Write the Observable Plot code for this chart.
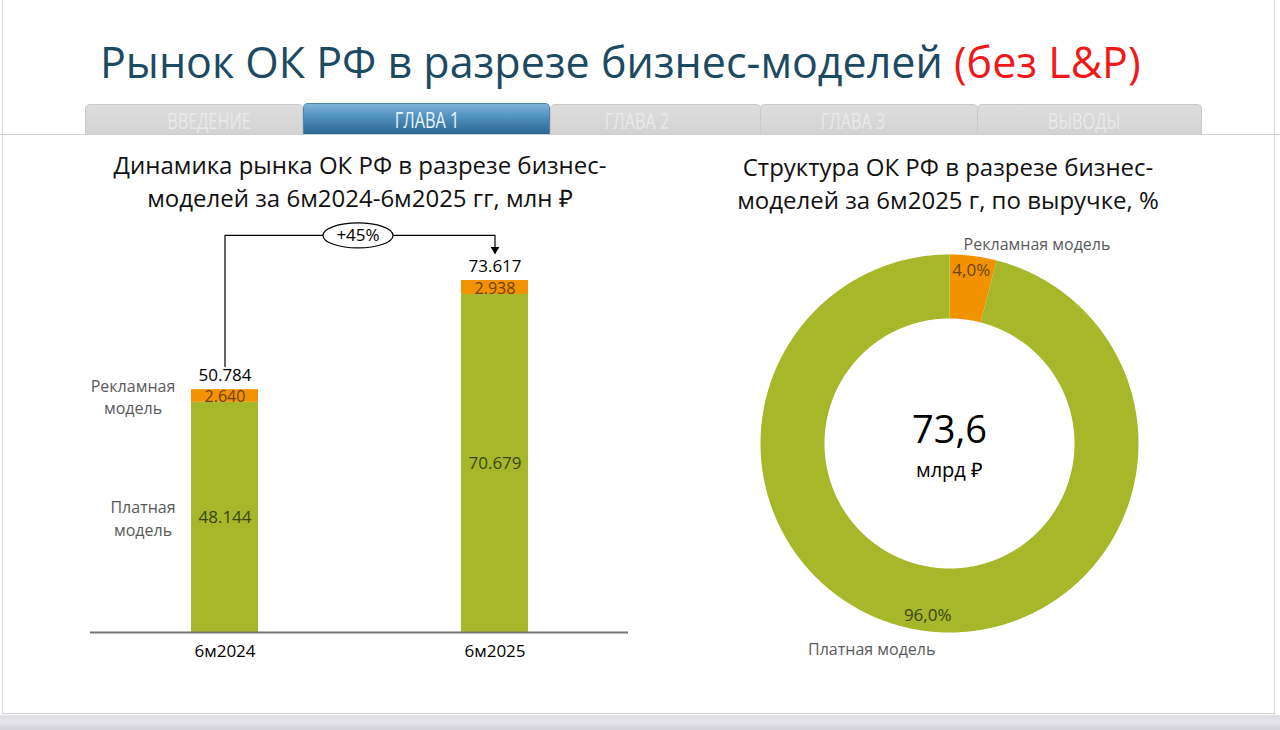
<!DOCTYPE html>
<html><head><meta charset="utf-8">
<script src="https://cdn.jsdelivr.net/npm/d3@7"></script>
<script src="https://cdn.jsdelivr.net/npm/@observablehq/plot@0.6"></script>
<style>
html,body{margin:0;padding:0;}
body{width:1280px;height:730px;background:linear-gradient(#ffffff 0,#ffffff 714px,#dcdce2 716px,#e6e6ec 722px,#d2d2d8 730px);position:relative;overflow:hidden;font-family:"Open Sans",sans-serif;}
#frame{position:absolute;left:2px;top:-2px;width:1273px;height:716px;border:1px solid #d6d6dc;box-sizing:border-box;}
.abs{position:absolute;white-space:nowrap;}
#title{left:100px;top:40px;font-size:43px;line-height:43px;color:#1d4a63;}
#title .red{color:#f01818;}
#tabline{left:0;top:134px;width:1280px;height:1px;background:#cfcfcf;}
.tab{position:absolute;top:104px;height:30px;box-sizing:border-box;background:linear-gradient(#dedede,#d3d3d3);border:1px solid #c9c9c9;border-bottom:none;border-radius:5px 5px 0 0;}
.tab.active{top:103px;height:31px;background:linear-gradient(#7cb3d8 0%,#4f8fbc 45%,#2b6791 100%);border-color:#4a86b0;}
.tab span{position:absolute;top:1px;font-size:22px;line-height:28px;color:#e9e9e9;transform:translateX(-50%) scaleX(0.74);}
.tab.active span{color:#eaf3fa;}
.ctitle{font-size:24px;line-height:33px;color:#111;text-align:center;transform:translateX(-50%);}
#leftChart{position:absolute;left:80px;top:220px;width:570px;height:450px;}
#rightChart{position:absolute;left:729px;top:208px;width:440px;height:470px;}
</style></head>
<body>
<div id="frame"></div>
<div id="tabline" class="abs"></div>
<div class="tab" style="left:85px;width:218px"><span style="left:123px">ВВЕДЕНИЕ</span></div>
<div class="tab" style="left:550px;width:211px"><span style="left:86px">ГЛАВА 2</span></div>
<div class="tab" style="left:760px;width:218px"><span style="left:92px">ГЛАВА 3</span></div>
<div class="tab" style="left:977px;width:225px"><span style="left:106px">ВЫВОДЫ</span></div>
<div class="tab active" style="left:303px;width:247px"><span style="left:123px">ГЛАВА 1</span></div>
<div id="title" class="abs">Рынок ОК РФ в разрезе бизнес-моделей <span class="red">(без L&amp;P)</span></div>
<div id="leftChart"></div>
<div id="rightChart"></div>
<div class="abs ctitle" style="left:360px;top:148px">Динамика рынка ОК РФ в разрезе бизнес-<br>моделей за 6м2024-6м2025 гг, млн ₽</div>
<div class="abs ctitle" style="left:948px;top:150px">Структура ОК РФ в разрезе бизнес-<br>моделей за 6м2025 г, по выручке, %</div>
<script>
// ---- data ----
const periods = ["6м2024", "6м2025"];
const models = ["Платная модель", "Рекламная модель"];
const paidValues = [48144, 70679];
const adValues = [2640, 2938];
const totals = [50784, 73617];
const shareModels = ["Рекламная модель", "Платная модель"];
const shares = [4.0, 96.0];
const centerUnit = "млрд ₽";
const modelColors = ["#a6b72a", "#f39200"];

// ---- helpers ----
const font = "'Open Sans', sans-serif";
const fmt = v => d3.format(",")(v).replace(/,/g, ".");
const pct = v => v.toFixed(1).replace(".", ",") + "%";
const rows = periods.flatMap((p, i) => [
  {period: p, model: models[0], value: paidValues[i]},
  {period: p, model: models[1], value: adValues[i]}
]);
const totalRows = periods.map((p, i) => ({period: p, total: totals[i]}));
const maxTotal = d3.max(totals);
const growth = "+" + Math.round((totals[1] / totals[0] - 1) * 100) + "%";
const bracketY = maxTotal * 1.128;
const bracket = [
  {period: periods[0], y: totals[0] * 1.095},
  {period: periods[0], y: bracketY},
  {period: periods[1], y: bracketY},
  {period: periods[1], y: maxTotal * 1.088}
];
const ellipse = {draw(ctx) {
  const rx = 35, ry = 12.5, k = 0.5523;
  ctx.moveTo(-rx, 0);
  ctx.bezierCurveTo(-rx, -ry * k, -rx * k, -ry, 0, -ry);
  ctx.bezierCurveTo(rx * k, -ry, rx, -ry * k, rx, 0);
  ctx.bezierCurveTo(rx, ry * k, rx * k, ry, 0, ry);
  ctx.bezierCurveTo(-rx * k, ry, -rx, ry * k, -rx, 0);
  ctx.closePath();
}};

const left = Plot.plot({
  width: 570, height: 450,
  marginTop: 10, marginBottom: 38, marginLeft: 10, marginRight: 22,
  style: {background: "transparent", overflow: "visible", fontFamily: font, fontSize: "17px", color: "#000"},
  x: {domain: periods, paddingInner: 0.752, paddingOuter: 0.372, label: null},
  y: {domain: [0, maxTotal * 1.142], axis: null},
  color: {domain: models, range: modelColors},
  marks: [
    Plot.barY(rows, {x: "period", y: "value", fill: "model"}),
    Plot.ruleY([0], {stroke: "#767676", strokeWidth: 2}),
    Plot.axisX({tickSize: 0, tickPadding: 12, fontSize: 17, fill: "#000", label: null}),
    Plot.text(totalRows, {x: "period", y: "total", text: d => fmt(d.total), dy: -14, fill: "#000", fontSize: 17, fontWeight: 500}),
    Plot.text(rows, Plot.filter(d => d.model === models[1],
      Plot.stackY({x: "period", y: "value", text: d => fmt(d.value), fill: "#6e4208", fontSize: 16, dy: 1}))),
    Plot.text(rows, Plot.filter(d => d.model === models[0],
      Plot.stackY({x: "period", y: "value", text: d => fmt(d.value), fill: "#3a4612", fontSize: 17}))),
    Plot.text(rows, Plot.filter(d => d.period === periods[0] && d.model === models[1],
      Plot.stackY({x: "period", y: "value", text: d => d.model.replace(" ", "\n"), dx: -92, fill: "#5a5a5a", fontSize: 16, lineHeight: 1.4}))),
    Plot.text(rows, Plot.filter(d => d.period === periods[0] && d.model === models[0],
      Plot.stackY({x: "period", y: "value", text: d => d.model.replace(" ", "\n"), dx: -82, fill: "#5a5a5a", fontSize: 16, lineHeight: 1.4}))),
    Plot.line(bracket, {x: "period", y: "y", stroke: "#000", strokeWidth: 1.2}),
    Plot.dot([bracket[3]], {x: "period", y: "y", symbol: "triangle", r: 3.2, fill: "#000", stroke: "none", rotate: 180}),
    Plot.dot([bracket[1]], {x: "period", y: "y", symbol: ellipse, fill: "#fff", stroke: "#000", strokeWidth: 1.2, dx: 133}),
    Plot.text([bracket[1]], {x: "period", y: "y", text: () => growth, dx: 133, fill: "#000", fontSize: 17})
  ]
});
document.getElementById("leftChart").append(left);

// ---- donut ----
const R = 189, W = 440, H = 470, rIn = 125 / 189;
const shareRows = shareModels.map((m, i) => ({model: m, share: shares[i]}));
const arcs = d3.pie().sort(null).value(d => d.share)(shareRows);
const ring = arcs.flatMap(a => {
  const n = Math.max(8, Math.ceil((a.endAngle - a.startAngle) / 0.01));
  const ts = d3.range(n + 1).map(k => a.startAngle + (a.endAngle - a.startAngle) * k / n);
  return [
    ...ts.map(t => ({model: a.data.model, x: Math.sin(t), y: Math.cos(t)})),
    ...ts.slice().reverse().map(t => ({model: a.data.model, x: rIn * Math.sin(t), y: rIn * Math.cos(t)}))
  ];
});
const labels = arcs.map(a => ({model: a.data.model, share: a.data.share, angle: (a.startAngle + a.endAngle) / 2}));
const colorOf = m => modelColors[models.indexOf(m)];
const pctFill = {"Рекламная модель": "#6e4208", "Платная модель": "#3a4612"};
const at = r => ({x: d => r * Math.sin(d.angle), y: d => r * Math.cos(d.angle)});

const right = Plot.plot({
  width: W, height: H, margin: 0,
  style: {background: "transparent", overflow: "visible", fontFamily: font, fontSize: "17px", color: "#000"},
  x: {domain: [-W / 2 / R, W / 2 / R], axis: null},
  y: {domain: [-H / 2 / R, H / 2 / R], axis: null},
  marks: [
    ...shareModels.map(m => Plot.line(ring.filter(d => d.model === m), {x: "x", y: "y", fill: colorOf(m), stroke: "none"})),
    ...labels.map(d => Plot.text([d], {...at(0.92), text: d => pct(d.share), fill: pctFill[d.model], fontSize: 17})),
    Plot.text([labels[0]], {...at(1.06), text: "model", textAnchor: "start", dx: -11, fill: "#5a5a5a", fontSize: 16}),
    Plot.text([labels[1]], {...at(1.1), text: "model", textAnchor: "end", dx: 12, fill: "#5a5a5a", fontSize: 16}),
    Plot.text([(totals[1] / 1000).toFixed(1).replace(".", ",")], {frameAnchor: "middle", text: d => d, dy: -13, fontSize: 38, fill: "#000"}),
    Plot.text([centerUnit], {frameAnchor: "middle", text: d => d, dy: 27, fontSize: 20, fill: "#000"})
  ]
});
document.getElementById("rightChart").append(right);
</script>
</body></html>
